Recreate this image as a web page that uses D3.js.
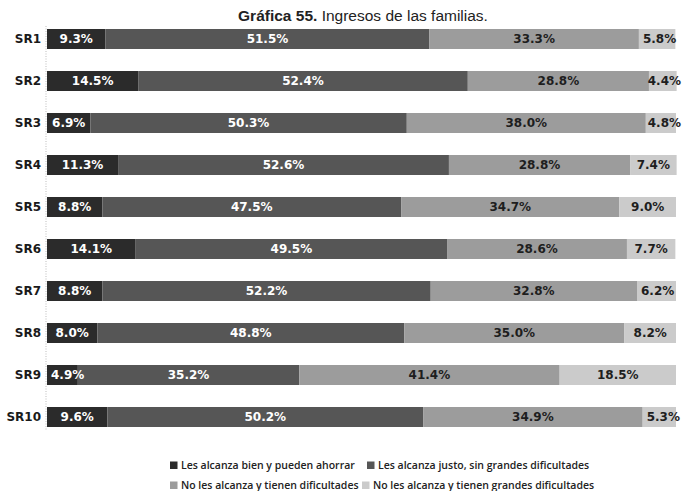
<!DOCTYPE html>
<html>
<head>
<meta charset="utf-8">
<script src="https://cdn.jsdelivr.net/npm/d3@7"></script>
<style>
  html, body { margin: 0; padding: 0; background: #fff; }
  svg { display: block; }
</style>
</head>
<body>
<svg id="chart" width="683" height="491"></svg>
<script>
// Family income by region: share of households in each situation (%)
const regions = ["SR1", "SR2", "SR3", "SR4", "SR5", "SR6", "SR7", "SR8", "SR9", "SR10"];
const seriesNames = [
  "Les alcanza bien y pueden ahorrar",
  "Les alcanza justo, sin grandes dificultades",
  "No les alcanza y tienen dificultades",
  "No les alcanza y tienen grandes dificultades"
];
const ahorrar    = [9.3, 14.5, 6.9, 11.3, 8.8, 14.1, 8.8, 8.0, 4.9, 9.6];
const justo      = [51.5, 52.4, 50.3, 52.6, 47.5, 49.5, 52.2, 48.8, 35.2, 50.2];
const dificultad = [33.3, 28.8, 38.0, 28.8, 34.7, 28.6, 32.8, 35.0, 41.4, 34.9];
const grandes    = [5.8, 4.4, 4.8, 7.4, 9.0, 7.7, 6.2, 8.2, 18.5, 5.3];

const seriesValues = [ahorrar, justo, dificultad, grandes];
const fills = ["#2b2b2b", "#565656", "#9c9c9c", "#cbcbcb"];
const labelFills = ["#ffffff", "#ffffff", "#1e1e1e", "#1e1e1e"];

const width = 683;
const svg = d3.select("#chart");

// Title
const title = svg.append("text")
  .attr("x", 363).attr("y", 21)
  .attr("text-anchor", "middle")
  .style("font-family", "'Liberation Sans', Arial, sans-serif")
  .style("font-size", "15.5px")
  .attr("fill", "#222");
title.append("tspan").style("font-weight", "bold").text("Gráfica 55.");
title.append("tspan").text(" Ingresos de las familias.");

const x = d3.scaleLinear().domain([0, 100]).range([47, 676]);
const y = d3.scaleBand().domain(regions).range([18, 438])
  .paddingInner(0.524).paddingOuter(0.262);

// Stacked table built from the series arrays
const table = regions.map((r, i) => {
  const row = { region: r };
  seriesNames.forEach((s, k) => { row[s] = seriesValues[k][i]; });
  return row;
});
const stacked = d3.stack().keys(seriesNames)(table);

// Dotted baseline
svg.append("line")
  .attr("x1", 46).attr("x2", 46)
  .attr("y1", 26).attr("y2", 430)
  .attr("stroke", "#bdbdbd")
  .attr("stroke-width", 1)
  .attr("stroke-dasharray", "1,1.5");

// Region labels
const yAxis = svg.append("g")
  .attr("transform", "translate(41,0)")
  .call(d3.axisLeft(y).tickSize(0).tickPadding(0));
yAxis.select(".domain").remove();
yAxis.selectAll("text")
  .style("font-family", "'DejaVu Sans', sans-serif")
  .style("font-weight", "bold")
  .style("font-size", "12px")
  .attr("fill", "#1a1a1a");

// Segments
const layers = svg.append("g").selectAll("g")
  .data(stacked).join("g")
  .attr("fill", (d, k) => fills[k]);

layers.selectAll("rect")
  .data(d => d).join("rect")
  .attr("x", d => x(d[0]))
  .attr("y", d => y(d.data.region))
  .attr("width", d => x(d[1]) - x(d[0]))
  .attr("height", y.bandwidth());

// Value labels, centred in their segment but kept inside the segment start and the page
const labels = svg.append("g").selectAll("g")
  .data(stacked).join("g")
  .attr("fill", (d, k) => labelFills[k]);

labels.selectAll("text")
  .data(d => d).join("text")
  .attr("y", d => y(d.data.region) + y.bandwidth() / 2)
  .attr("dy", "0.36em")
  .attr("text-anchor", "middle")
  .style("font-family", "'DejaVu Sans', sans-serif")
  .style("font-weight", "bold")
  .style("font-size", "12px")
  .text(d => (d[1] - d[0]).toFixed(1) + "%")
  .attr("x", function (d) {
    const half = this.getComputedTextLength() / 2;
    const centre = (x(d[0]) + x(d[1])) / 2;
    return Math.min(Math.max(centre, x(d[0]) + 4 + half), width - 2 - half);
  });

// Legend
const legendPos = [
  { x: 170, y: 469 }, { x: 367, y: 469 },
  { x: 170, y: 489 }, { x: 362, y: 489 }
];
const legend = svg.append("g").selectAll("g")
  .data(seriesNames).join("g")
  .attr("transform", (d, k) => `translate(${legendPos[k].x},${legendPos[k].y})`);
legend.append("rect")
  .attr("x", 0).attr("y", -7.5).attr("width", 7.5).attr("height", 7.5)
  .attr("fill", (d, k) => fills[k]);
legend.append("text")
  .attr("x", 11).attr("y", 0)
  .style("font-family", "'Open Sans', sans-serif")
  .style("font-weight", "600")
  .style("font-size", "10.5px")
  .attr("fill", "#222")
  .text(d => d);
</script>
</body>
</html>
